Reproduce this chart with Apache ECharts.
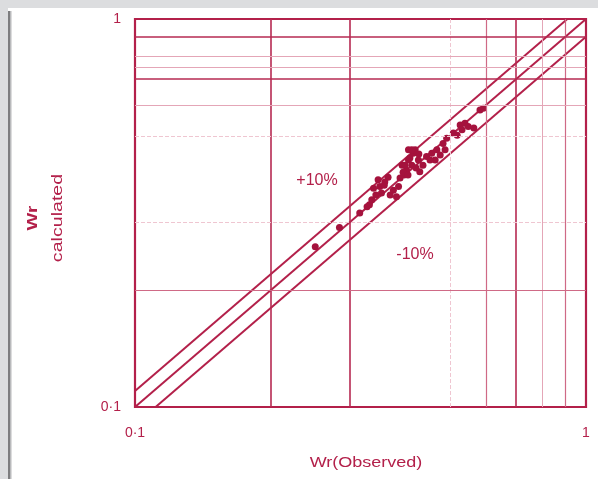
<!DOCTYPE html>
<html>
<head>
<meta charset="utf-8">
<script src="https://cdn.jsdelivr.net/npm/echarts@6/dist/echarts.min.js"></script>
<style>
  html, body { margin: 0; padding: 0; background: #ffffff; }
  #chart { width: 598px; height: 479px; }
</style>
</head>
<body>
<div id="chart"></div>
<script>
// Observed vs calculated Wr, log-log, with +/-10% bands
const observed = [0.251, 0.284, 0.315, 0.331, 0.335, 0.338, 0.349, 0.346, 0.364, 0.352,
  0.374, 0.380, 0.384, 0.400, 0.404, 0.414, 0.418, 0.411, 0.425, 0.428,
  0.443, 0.455, 0.467, 0.463, 0.482, 0.491, 0.508, 0.526, 0.539, 0.548,
  0.582, 0.592, 0.391, 0.395, 0.368, 0.358, 0.435, 0.475, 0.518, 0.564, 0.404,
  0.397, 0.407, 0.393, 0.420, 0.411, 0.387, 0.403, 0.426, 0.342, 0.357,
  0.327, 0.451, 0.487, 0.531];
const calculated = [0.259, 0.290, 0.316, 0.332, 0.342, 0.366, 0.370, 0.385, 0.391, 0.356,
  0.362, 0.348, 0.370, 0.408, 0.433, 0.451, 0.460, 0.420, 0.433, 0.404,
  0.442, 0.451, 0.460, 0.433, 0.478, 0.493, 0.508, 0.533, 0.539, 0.528,
  0.583, 0.589, 0.420, 0.396, 0.352, 0.380, 0.420, 0.446, 0.502, 0.524, 0.460,
  0.420, 0.438, 0.403, 0.413, 0.460, 0.389, 0.396, 0.449, 0.352, 0.373,
  0.328, 0.433, 0.460, 0.518];

// band ratios: y = r * x
const bandRatios = [1.0, 1.1, 0.9];
const bandLabels = ['+10%', '-10%'];

const axisMin = 0.1, axisMax = 1;
const tickLabels = ['0·1', '1'];

// grid lines inside the plot: value + weight class
const vGridValues = [0.2, 0.3, 0.5, 0.6, 0.7, 0.8, 0.9];
const vGridWeights = ['heavy', 'heavy', 'faint', 'medium', 'heavy', 'light', 'medium'];
const hGridValues = [0.9, 0.8, 0.75, 0.7, 0.6, 0.5, 0.3, 0.2];
const hGridWeights = ['heavy', 'light', 'light', 'heavy', 'light', 'faint', 'faint', 'medium'];

const RED = '#b3204a';
const DOT = '#a5123d';
const weightStyle = {
  heavy: { color: '#b62a52', width: 1.6, type: 'solid' },
  medium: { color: '#cf6a86', width: 1.2, type: 'solid' },
  light: { color: '#e4a6b7', width: 1, type: 'solid' },
  faint: { color: '#efc6d1', width: 1, type: 'dashed' }
};

const gridLineData = [];
vGridValues.forEach((v, i) => gridLineData.push({ xAxis: v, lineStyle: weightStyle[vGridWeights[i]] }));
hGridValues.forEach((v, i) => gridLineData.push({ yAxis: v, lineStyle: weightStyle[hGridWeights[i]] }));

// endpoints of each band line clipped to the plot box
function bandLine(r) {
  const x0 = Math.max(axisMin, axisMin / r);
  const x1 = Math.min(axisMax, axisMax / r);
  return [[x0, r * x0], [x1, r * x1]];
}

const points = observed.map((x, i) => [x, calculated[i]]);

const chart = echarts.init(document.getElementById('chart'), null, { renderer: 'canvas' });

const series = [
  {
    type: 'scatter',
    data: [],
    silent: true,
    z: 1,
    markLine: {
      silent: true,
      symbol: ['none', 'none'],
      label: { show: false },
      animation: false,
      data: gridLineData
    }
  }
];
bandRatios.forEach(r => {
  series.push({
    type: 'line',
    data: bandLine(r),
    showSymbol: false,
    symbol: 'none',
    silent: true,
    z: 3,
    lineStyle: { color: RED, width: 2 }
  });
});
series.push({
  type: 'scatter',
  data: points,
  symbol: 'circle',
  symbolSize: 7,
  z: 4,
  itemStyle: { color: DOT, opacity: 1 }
});

const option = {
  animation: false,
  backgroundColor: '#ffffff',
  grid: {
    left: 135, top: 19, width: 451, height: 388,
    show: true, borderColor: RED, borderWidth: 2.2, backgroundColor: 'transparent', z: 5
  },
  xAxis: {
    type: 'log', logBase: 10, min: axisMin, max: axisMax,
    axisLine: { show: false },
    axisTick: { show: false },
    splitLine: { show: false },
    minorSplitLine: { show: false },
    axisLabel: {
      color: RED, fontFamily: 'Liberation Sans, Arial, sans-serif', fontSize: 14,
      margin: 19,
      formatter: v => (v < 0.5 ? tickLabels[0] : tickLabels[1])
    }
  },
  yAxis: {
    type: 'log', logBase: 10, min: axisMin, max: axisMax,
    axisLine: { show: false },
    axisTick: { show: false },
    splitLine: { show: false },
    minorSplitLine: { show: false },
    axisLabel: {
      color: RED, fontFamily: 'Liberation Sans, Arial, sans-serif', fontSize: 14,
      margin: 14,
      formatter: v => (v < 0.5 ? tickLabels[0] : tickLabels[1])
    }
  },
  series: series,
  graphic: [
    // page frame strips
    { type: 'rect', shape: { x: 0, y: 0, width: 598, height: 8 }, style: { fill: '#dcdddf' }, silent: true },
    { type: 'rect', shape: { x: 0, y: 0, width: 8, height: 479 }, style: { fill: '#dcdddf' }, silent: true },
    { type: 'rect', shape: { x: 8, y: 11, width: 2, height: 468 }, style: { fill: '#7d7d7f' }, silent: true },
    { type: 'rect', shape: { x: 10, y: 11, width: 1.5, height: 468 }, style: { fill: '#b9babc' }, silent: true },
    // axis titles
    {
      type: 'text', x: 366, y: 463, scaleX: 1.2, silent: true,
      style: { text: 'Wr(Observed)', fill: RED, font: '15px "Liberation Sans", Arial, sans-serif',
        align: 'center', verticalAlign: 'middle', textAlign: 'center', textVerticalAlign: 'middle' }
    },
    {
      type: 'text', x: 33, y: 218, rotation: Math.PI / 2, scaleX: 1.35, silent: true,
      style: { text: 'Wr', fill: RED, font: 'bold 14px "Liberation Sans", Arial, sans-serif',
        align: 'center', verticalAlign: 'middle', textAlign: 'center', textVerticalAlign: 'middle' }
    },
    {
      type: 'text', x: 58, y: 218, rotation: Math.PI / 2, scaleX: 1.4, silent: true,
      style: { text: 'calculated', fill: RED, font: '14px "Liberation Sans", Arial, sans-serif',
        align: 'center', verticalAlign: 'middle', textAlign: 'center', textVerticalAlign: 'middle' }
    },
    // band annotations
    {
      type: 'text', x: 317, y: 181, silent: true,
      style: { text: bandLabels[0], fill: RED, font: '16px "Liberation Sans", Arial, sans-serif',
        align: 'center', verticalAlign: 'middle', textAlign: 'center', textVerticalAlign: 'middle' }
    },
    {
      type: 'text', x: 415, y: 255, silent: true,
      style: { text: bandLabels[1], fill: RED, font: '16px "Liberation Sans", Arial, sans-serif',
        align: 'center', verticalAlign: 'middle', textAlign: 'center', textVerticalAlign: 'middle' }
    }
  ]
};

chart.setOption(option);
</script>
</body>
</html>
